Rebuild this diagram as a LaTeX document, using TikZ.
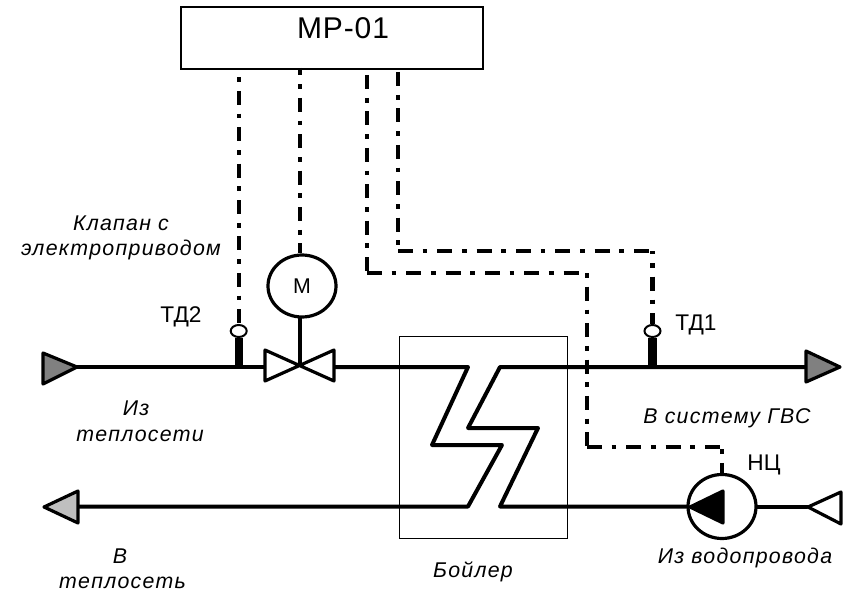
\documentclass[tikz,border=0pt]{standalone}
\usepackage{fontspec}
\setmainfont{Liberation Sans}
\newfontfamily\notefont[LetterSpace=6]{Liberation Sans}
\newfontfamily\titlefont[LetterSpace=3]{Liberation Sans}
\usetikzlibrary{shapes,positioning}
\tikzset{
  pipe/.style={line width=3pt,line join=round,line cap=round},
  vsignal/.style={line width=3.2pt,dash pattern=on 10.5pt off 6.6pt on 3.6pt off 6.6pt},
  hsignal/.style={line width=3.2pt,dash pattern=on 11.3pt off 7.1pt on 3.6pt off 7.5pt},
  tri/.style={line width=2.4pt,line join=round},
  ell/.style={ellipse,draw,line width=2.4pt,fill=white,inner sep=0pt},
  sensor/.style={ellipse,draw,line width=1.5pt,fill=white,minimum width=12pt,minimum height=9pt,inner sep=0pt},
  stem/.style={line width=6.3pt},
  lbl/.style={font=\fontsize{17}{20}\selectfont,inner sep=0pt,text height=12.2pt,text depth=0pt},
  note/.style={font=\notefont\itshape\fontsize{16}{18}\selectfont,inner sep=0pt,text height=11.1pt,text depth=0pt}
}
\begin{document}
\begin{tikzpicture}[x=0.75pt,y=-0.75pt]
        \useasboundingbox (0,0) rectangle (847,592);

        \node[draw,line width=1.5pt,minimum width=226pt,minimum height=47pt,inner sep=0pt] (mr) at (332,38) {};
        \node[inner sep=0pt,font=\titlefont\fontsize{22.5}{24}\selectfont,text height=16.1pt,text depth=0pt] (mrtext) at (343,28) {МР-01};
        \node[draw,line width=0.8pt,minimum width=126.5pt,minimum height=152pt,inner sep=0pt] (boiler) at (483.5,437.5) {};

        \coordinate (s2top) at (238.7,77);
        \coordinate (mtop) at (300,68);
        \coordinate (s3top) at (367,75);
        \coordinate (s1top) at (398,72);
        \coordinate (s1a) at (398,251);
        \coordinate (s1b) at (652.5,251);
        \coordinate (s3a) at (367,273);
        \coordinate (s3b) at (587,273);
        \coordinate (s3c) at (587,447);
        \coordinate (s3d) at (722,447);

        \node[ell,minimum width=51pt,minimum height=46.5pt] (m) at (302,286) {\fontsize{16}{18}\selectfont М};
        \node[ell,minimum width=51pt,minimum height=48pt] (nc) at (722,506.5) {};
        \node[sensor] (td2) at (238.7,331) {};
        \node[sensor] (td1) at (652.5,331) {};

        \coordinate (in) at (77,367);
        \coordinate (vl) at (265,367);
        \coordinate (vc) at (300,365);
        \coordinate (vr) at (334,367);
        \coordinate (hot1) at (468,367);
        \coordinate (hot2) at (432,445);
        \coordinate (hot3) at (502,445);
        \coordinate (hot4) at (468,506.5);
        \coordinate (ret) at (78,506.5);
        \coordinate (out) at (806,367);
        \coordinate (cold1) at (500,367);
        \coordinate (cold2) at (468,428);
        \coordinate (cold3) at (538,428);
        \coordinate (cold4) at (500,506.5);
        \coordinate (feed) at (807,506.5);
        \coordinate (td2p) at (238.7,365);
        \coordinate (td1p) at (652.5,365);

        % signal lines
        \draw [vsignal,dash phase=16.9pt] (s2top) to (td2);
        \draw [vsignal,dash phase=4.9pt] (mtop) to (mtop |- m.north);
        \draw [vsignal] (s1top) to (s1a);
        \draw [hsignal] (s1a) to (s1b);
        \draw [vsignal,dash phase=8pt] (s1b) to (td1);
        \draw [vsignal] (s3top) to (s3a);
        \draw [hsignal] (s3a) to (s3b);
        \draw [vsignal,dash phase=17pt] (s3b) to (s3c);
        \draw [hsignal] (s3c) to (s3d);
        \draw [vsignal,dash phase=15.4pt] (s3d) to (nc);

        % pipes
        \draw [pipe] (in) to (vl);
        \draw [pipe] (vr) -- (hot1) -- (hot2) -- (hot3) -- (hot4) -- (ret);
        \draw [pipe] (out) -- (cold1) -- (cold2) -- (cold3) -- (cold4) -- (nc);
        \draw [pipe] (nc) to (feed);
        \draw [pipe] (vc |- m.south) to (vc);
        \draw [stem] (td2) to (td2p);
        \draw [stem] (td1) to (td1p);

        % valve and line ends
        \draw [tri,fill=white] (265,350) -- (265,381) -- (334,350) -- (334,381) -- cycle;
        \draw [tri,fill=black!50] (43,353) -- (43,384) -- (77,367) -- cycle;
        \draw [tri,fill=black!50] (806,351) -- (806,382) -- (840,367) -- cycle;
        \draw [tri,fill=black!25] (44,507) -- (78,491) -- (78,523) -- cycle;
        \draw [tri,fill=white] (808,507) -- (841,492) -- (841,524) -- cycle;
        \draw [tri,fill=black] (690,507) -- (723,491) -- (723,523) -- cycle;

        \node[lbl] (ltd2) at (181,314) {ТД2};
        \node[lbl] (ltd1) at (696,322) {ТД1};
        \node[lbl] (lnc) at (764,462) {НЦ};
        \node[note] (lvalve1) at (121,222.6) {Клапан с};
        \node[note] (lvalve2) at (121,247.6) {электроприводом};
        \node[note] (lfrom1) at (136,407.6) {Из};
        \node[note] (lfrom2) at (140,433.6) {теплосети};
        \node[note] (lto1) at (120,555.6) {В};
        \node[note] (lto2) at (122.5,580.6) {теплосеть};
        \node[note] (lboil) at (473,570.5) {Бойлер};
        \node[note] (lgvs) at (727,416) {В систему ГВС};
        \node[note] (lwater) at (745,556) {Из водопровода};
    \end{tikzpicture}
\end{document}
